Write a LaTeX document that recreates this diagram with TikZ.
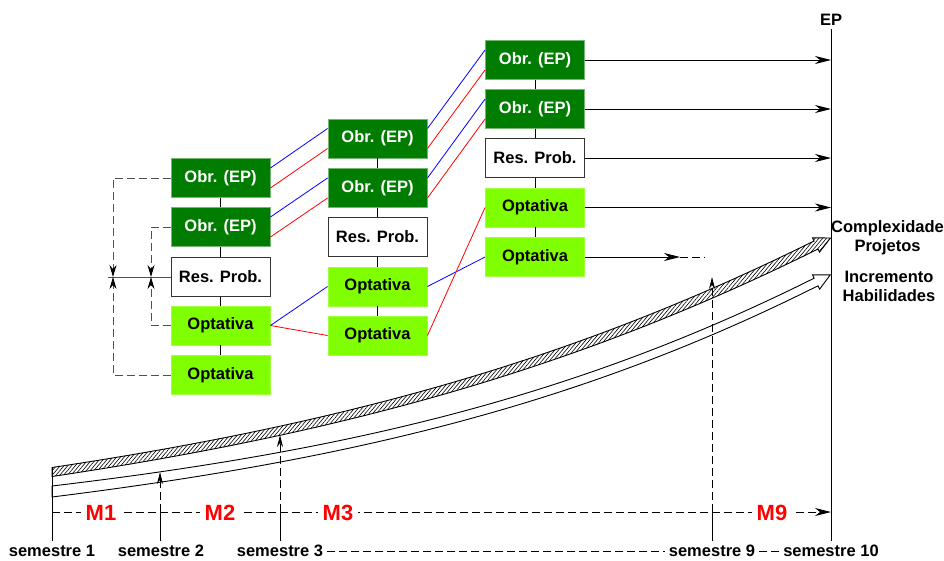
\documentclass[tikz,border=0pt]{standalone}
\usepackage{fontspec}
\setmainfont{Liberation Sans}
\usetikzlibrary{arrows.meta,patterns.meta}
\definecolor{obrgreen}{RGB}{0,125,0}
\definecolor{optgreen}{RGB}{128,255,0}
\definecolor{dashgray}{RGB}{80,80,80}

\tikzset{
  box/.style={minimum width=99pt,minimum height=39pt,inner sep=0pt},
  obr/.style={box,fill=obrgreen,draw=obrgreen!55!white,text=white},
  opt/.style={box,fill=optgreen,draw=optgreen!75!white},
  res/.style={box,fill=white,draw=black!80},
  tip/.style={-{Stealth[length=16pt,width=8pt,inset=5pt]}},
  smalltip/.style={-{Stealth[length=12pt,width=6pt,inset=4pt]}},
  dashline/.style={dash pattern=on 8pt off 4pt},
  gline/.style={draw=dashgray,dashline,-{Stealth[length=12pt,width=7pt,inset=4pt,color=black]}},
  blueline/.style={draw=blue,line width=0.8pt},
  redline/.style={draw=red,line width=0.8pt},
  mlabel/.style={fill=white,text=red,font=\bfseries\fontsize{22}{26}\selectfont,inner xsep=5pt,inner ysep=0pt}
}

\begin{document}
\begin{tikzpicture}[x=1pt,y=1pt,yscale=-1,line width=0.9pt,font=\bfseries\fontsize{16.5}{19}\selectfont]
\useasboundingbox (0,0) rectangle (944,560);

%Shape: Band (hatched)
\draw [pattern={Lines[angle=50,distance=2.9pt,line width=0.6pt]}] (52,467.5) .. controls (351.3,422.5) and (578,358) .. (814,241) -- (812.5,237.8) -- (830.4,238) -- (819.5,252.2) -- (818,249) .. controls (582,366) and (352.7,431.5) .. (52,476.5) -- cycle ;
%Shape: Band (white)
\draw [fill=white] (52,486) .. controls (351.4,450.5) and (578,396) .. (814.1,278.2) -- (812.4,274.8) -- (830.3,274.8) -- (819.6,289.2) -- (817.9,285.8) .. controls (582,404) and (352.6,459.5) .. (52,497) -- cycle ;

% Column 1
\node [obr] (c1a) at (220.5,178) {Obr. (EP)};
\node [obr] (c1b) at (220.5,227) {Obr. (EP)};
\node [res] (c1c) at (220.5,277) {Res. Prob.};
\node [opt] (c1d) at (220.5,325.5) {Optativa};
\node [opt] (c1e) at (220.5,375) {Optativa};
% Column 2
\node [obr] (c2a) at (377.5,138.5) {Obr. (EP)};
\node [obr] (c2b) at (377.5,188) {Obr. (EP)};
\node [res] (c2c) at (377.5,237) {Res. Prob.};
\node [opt] (c2d) at (377.5,286.5) {Optativa};
\node [opt] (c2e) at (377.5,335.5) {Optativa};
% Column 3
\node [obr] (c3a) at (535,60) {Obr. (EP)};
\node [obr] (c3b) at (535,109) {Obr. (EP)};
\node [res] (c3c) at (535,158) {Res. Prob.};
\node [opt] (c3d) at (535,207.5) {Optativa};
\node [opt] (c3e) at (535,257) {Optativa};

%Straight Lines
\draw (c1a) -- (c1b) -- (c1c) -- (c1d) -- (c1e);
\draw (c2a) -- (c2b) -- (c2c) -- (c2d) -- (c2e);
\draw (c3a) -- (c3b) -- (c3c) -- (c3d) -- (c3e);

%Straight Lines
\draw [blueline] ([yshift=-10pt]c1a.east) -- ([yshift=-10pt]c2a.west);
\draw [redline] ([yshift=10pt]c1a.east) -- ([yshift=10pt]c2a.west);
\draw [blueline] ([yshift=-10pt]c1b.east) -- ([yshift=-10pt]c2b.west);
\draw [redline] ([yshift=10pt]c1b.east) -- ([yshift=10pt]c2b.west);
\draw [blueline] ([yshift=-10pt]c2a.east) -- ([yshift=-10pt]c3a.west);
\draw [redline] ([yshift=10pt]c2a.east) -- ([yshift=10pt]c3a.west);
\draw [blueline] ([yshift=-10pt]c2b.east) -- ([yshift=-10pt]c3b.west);
\draw [redline] ([yshift=10pt]c2b.east) -- ([yshift=10pt]c3b.west);
\draw [blueline] (c1d.east) -- (c2d.west);
\draw [redline] (c1d.east) -- (c2e.west);
\draw [blueline] (c2d.east) -- (c3e.west);
\draw [redline] (c2e.east) -- (c3d.west);

% Left side
\coordinate (lo) at (113,277);
\coordinate (li) at (151,277);
\coordinate (lend) at (108,277);
\draw [draw=dashgray] (c1c) -- (lend);
\draw [gline] (c1a.west) -| (lo);
\draw [gline] (c1e.west) -| (lo);
\draw [gline] (c1b.west) -| (li);
\draw [gline] (c1d.west) -| (li);

% Text Node
\node (ep) at (831,20) {EP};
\node (s1) at (52,551) {semestre 1};
\node (s2) at (161,551) {semestre 2};
\node (s3) at (280,551) {semestre 3};
\node (s9) at (712,551) {semestre 9};
\node (s10) at (831,551) {semestre 10};
\node [align=center] (cp) at (887.5,237.5) {Complexidade\\Projetos};
\node [align=center] (ih) at (889,286) {Incremento\\Habilidades};

\draw (ep) -- (s10);
\draw [dashline] (s3) -- (s9);
\draw [dashline] (s9) -- (s10);

% Arrows to EP
\draw [tip] (c3a) -- (c3a -| ep);
\draw [tip] (c3b) -- (c3b -| ep);
\draw [tip] (c3c) -- (c3c -| ep);
\draw [tip] (c3d) -- (c3d -| ep);
\coordinate (c3end) at (680,257);
\coordinate (c3dash) at (705,257);
\draw [tip] (c3e) -- (c3end);
\draw [dashline] (c3end) -- (c3dash);

% Time line
\coordinate (b1) at (52,467.5);
\coordinate (tl) at (52,512);
\coordinate (tr) at (831,512);
\coordinate (a2) at (160,512);
\coordinate (h2) at (160,472);
\coordinate (a3) at (280,512);
\coordinate (h3) at (280,435);
\coordinate (a9) at (712,512);
\coordinate (h9) at (712,277);
\draw (s1) -- (b1);
\draw (s2.north -| a2) -- (a2);
\draw (s3) -- (a3);
\draw (s9) -- (a9);
\draw [dashline,smalltip] (a2) -- (h2);
\draw [dashline,smalltip] (a3) -- (h3);
\draw [dashline,smalltip] (a9) -- (h9);
\draw [dashline,tip] (tl) -- (tr);
\node [mlabel] (m1) at (101,513) {M1};
\node [mlabel] (m2) at (220,513) {M2};
\node [mlabel] (m3) at (338,513) {M3};
\node [mlabel] (m9) at (772,513) {M9};

\end{tikzpicture}
\end{document}
